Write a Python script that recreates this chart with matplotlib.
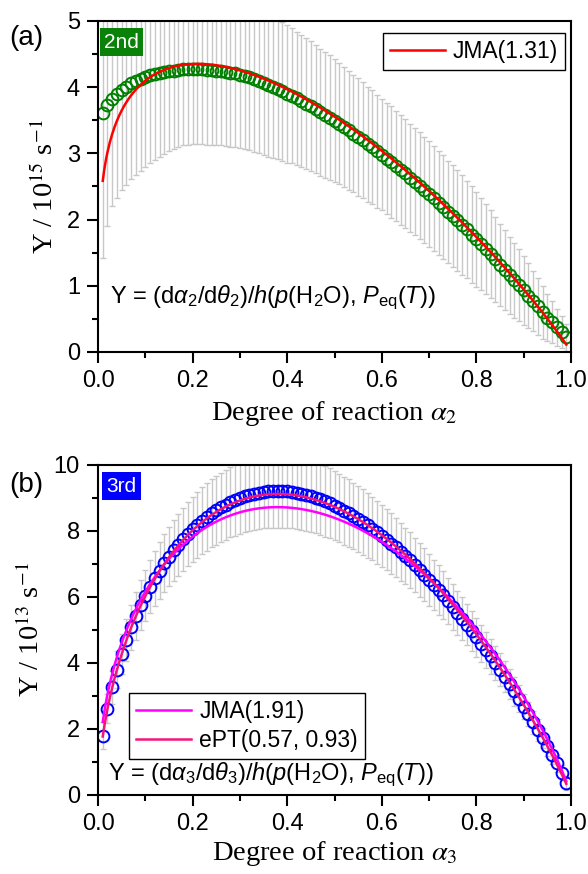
import numpy as np
import matplotlib
matplotlib.use("Agg")
import matplotlib.pyplot as plt
from matplotlib.ticker import MultipleLocator, FormatStrFormatter

plt.rcParams["font.family"] = ["Liberation Sans", "DejaVu Sans"]
plt.rcParams["mathtext.fontset"] = "custom"
plt.rcParams["mathtext.rm"] = "Liberation Sans"
plt.rcParams["mathtext.it"] = "Liberation Sans:italic"
plt.rcParams["mathtext.bf"] = "Liberation Sans:bold"

# ---------------- data ----------------
alpha = np.round(np.arange(1, 100) / 100.0, 2)

# 2nd step: Y / 10^15 s^-1
y2 = [3.61, 3.73, 3.82, 3.89, 3.96, 4.01, 4.06, 4.10, 4.13, 4.16,
      4.18, 4.20, 4.21, 4.23, 4.24, 4.25, 4.26, 4.27, 4.27, 4.27,
      4.27, 4.27, 4.26, 4.26, 4.25, 4.24, 4.23, 4.22, 4.21, 4.19,
      4.17, 4.15, 4.12, 4.09, 4.06, 4.03, 4.00, 3.97, 3.94, 3.90,
      3.87, 3.83, 3.79, 3.75, 3.71, 3.67, 3.62, 3.58, 3.54, 3.49,
      3.45, 3.40, 3.35, 3.30, 3.25, 3.20, 3.14, 3.09, 3.03, 2.98,
      2.92, 2.87, 2.81, 2.75, 2.70, 2.63, 2.57, 2.51, 2.44, 2.38,
      2.32, 2.25, 2.19, 2.12, 2.06, 1.99, 1.92, 1.85, 1.77, 1.70,
      1.63, 1.56, 1.48, 1.40, 1.32, 1.24, 1.16, 1.08, 1.01, 0.93,
      0.85, 0.77, 0.69, 0.60, 0.52, 0.45, 0.37, 0.30, 0.22]
y2_err = [2.19, 1.83, 1.62, 1.56, 1.52, 1.49, 1.45, 1.42, 1.39, 1.36,
          1.33, 1.30, 1.27, 1.24, 1.21, 1.19, 1.17, 1.15, 1.14, 1.13,
          1.13, 1.13, 1.13, 1.13, 1.13, 1.12, 1.12, 1.12, 1.12, 1.11,
          1.11, 1.10, 1.10, 1.09, 1.09, 1.08, 1.07, 1.06, 1.05, 1.04,
          1.02, 1.01, 1.00, 0.99, 0.98, 0.97, 0.96, 0.95, 0.94, 0.93,
          0.92, 0.91, 0.90, 0.89, 0.89, 0.88, 0.87, 0.86, 0.85, 0.84,
          0.84, 0.84, 0.83, 0.83, 0.82, 0.82, 0.81, 0.81, 0.80, 0.80,
          0.79, 0.79, 0.78, 0.77, 0.77, 0.76, 0.75, 0.74, 0.73, 0.72,
          0.70, 0.68, 0.66, 0.64, 0.62, 0.60, 0.58, 0.56, 0.54, 0.52,
          0.49, 0.46, 0.43, 0.40, 0.36, 0.32, 0.28, 0.24, 0.20]

# 3rd step: Y / 10^13 s^-1
y3 = [1.80, 2.62, 3.26, 3.80, 4.28, 4.70, 5.08, 5.43, 5.75, 6.04,
      6.31, 6.56, 6.80, 7.02, 7.22, 7.41, 7.58, 7.75, 7.90, 8.05,
      8.18, 8.31, 8.42, 8.53, 8.63, 8.72, 8.80, 8.88, 8.94, 9.00,
      9.05, 9.10, 9.13, 9.16, 9.18, 9.20, 9.21, 9.21, 9.21, 9.20,
      9.18, 9.16, 9.13, 9.10, 9.06, 9.01, 8.96, 8.90, 8.84, 8.77,
      8.70, 8.62, 8.54, 8.45, 8.36, 8.27, 8.17, 8.07, 7.96, 7.85,
      7.74, 7.62, 7.50, 7.37, 7.24, 7.11, 6.97, 6.83, 6.68, 6.52,
      6.37, 6.21, 6.05, 5.88, 5.70, 5.52, 5.34, 5.16, 4.97, 4.78,
      4.59, 4.40, 4.20, 4.00, 3.80, 3.58, 3.36, 3.14, 2.91, 2.68,
      2.45, 2.21, 1.97, 1.72, 1.47, 1.22, 0.96, 0.68, 0.36]
y3_err = [0.40, 0.45, 0.50, 0.55, 0.60, 0.64, 0.68, 0.72, 0.75, 0.78,
          0.81, 0.84, 0.86, 0.88, 0.90, 0.92, 0.94, 0.96, 0.97, 0.99,
          1.00, 1.01, 1.02, 1.03, 1.04, 1.05, 1.06, 1.07, 1.08, 1.08,
          1.09, 1.09, 1.10, 1.10, 1.10, 1.11, 1.11, 1.11, 1.11, 1.11,
          1.10, 1.10, 1.10, 1.09, 1.09, 1.08, 1.08, 1.07, 1.06, 1.05,
          1.04, 1.03, 1.02, 1.01, 1.00, 0.99, 0.98, 0.96, 0.95, 0.94,
          0.92, 0.91, 0.89, 0.88, 0.86, 0.85, 0.83, 0.82, 0.80, 0.78,
          0.76, 0.75, 0.73, 0.71, 0.69, 0.67, 0.65, 0.63, 0.61, 0.59,
          0.57, 0.55, 0.53, 0.51, 0.49, 0.47, 0.45, 0.43, 0.41, 0.39,
          0.37, 0.35, 0.33, 0.31, 0.29, 0.27, 0.25, 0.23, 0.21]

# kinetic model parameters (from the fits)
jma2_m, jma2_A = 1.31, 5.92
jma3_m, jma3_A = 1.91, 10.47
ept3_m, ept3_n, ept3_A = 0.57, 0.93, 24.7


def jma(a, m, A):
    return A * m * (1 - a) * (-np.log(1 - a)) ** (1 - 1 / m)


def ept(a, m, n, A):
    return A * a ** m * (1 - a) ** n


a_fit = np.linspace(0.01, 0.99, 400)

# ---------------- figure ----------------
fig = plt.figure(figsize=(5.88, 8.74), dpi=100)
ax1 = fig.add_axes([0.1667, 0.5973, 0.8044, 0.3787])
ax2 = fig.add_axes([0.1667, 0.0904, 0.8044, 0.3776])

err_kw = dict(fmt="none", ecolor="#c8c8c8", elinewidth=1.0, capsize=2.5,
              capthick=1.0, zorder=1)

# panel (a)
ax1.errorbar(alpha, y2, yerr=y2_err, **err_kw)
ax1.plot(alpha, y2, "o", mfc="none", mec="#008000", mew=1.4, ms=8.5, zorder=2)
ax1.plot(a_fit, jma(a_fit, jma2_m, jma2_A), color="#ff0000", lw=1.8,
         zorder=3, label="JMA(1.31)")

# panel (b)
ax2.errorbar(alpha, y3, yerr=y3_err, **err_kw)
ax2.plot(alpha, y3, "o", mfc="none", mec="#0000ff", mew=1.4, ms=8.5, zorder=2)
ax2.plot(a_fit, jma(a_fit, jma3_m, jma3_A), color="#ff00ff", lw=1.8,
         zorder=3, label="JMA(1.91)")
ax2.plot(a_fit, ept(a_fit, ept3_m, ept3_n, ept3_A), color="#f5147a", lw=1.8,
         zorder=3, label="ePT(0.57, 0.93)")

for ax, ymax, ymaj, ymin in [(ax1, 5, 1, 0.5), (ax2, 10, 2, 1)]:
    ax.set_xlim(0, 1.0)
    ax.set_ylim(0, ymax)
    ax.xaxis.set_major_locator(MultipleLocator(0.2))
    ax.xaxis.set_minor_locator(MultipleLocator(0.1))
    ax.yaxis.set_major_locator(MultipleLocator(ymaj))
    ax.yaxis.set_minor_locator(MultipleLocator(ymin))
    ax.xaxis.set_major_formatter(FormatStrFormatter("%.1f"))
    ax.yaxis.set_major_formatter(FormatStrFormatter("%d"))
    ax.tick_params(which="major", direction="out", length=8, width=1.5,
                   labelsize=17, pad=5)
    ax.tick_params(which="minor", direction="out", length=4.5, width=1.5)
    for sp in ax.spines.values():
        sp.set_linewidth(1.5)

label_kw = dict(fontsize=20.5, family="Liberation Serif", math_fontfamily="stix")
ax1.set_xlabel(r"Degree of reaction $\alpha_2$", labelpad=5, **label_kw)
ax2.set_xlabel(r"Degree of reaction $\alpha_3$", labelpad=3, **label_kw)
ax1.set_ylabel(r"Y / 10$^{15}$ s$^{-1}$", labelpad=6, **label_kw)
ax2.set_ylabel(r"Y / 10$^{13}$ s$^{-1}$", labelpad=6, **label_kw)

leg_kw = dict(fontsize=16.5, frameon=True, fancybox=False, edgecolor="black",
              framealpha=1, borderaxespad=0, handlelength=2.4,
              handletextpad=0.35, borderpad=0.3, labelspacing=0.25)
l1 = ax1.legend(loc="upper right", bbox_to_anchor=(0.987, 0.964), **leg_kw)
l2 = ax2.legend(loc="lower left", bbox_to_anchor=(0.066, 0.11), **leg_kw)
for lg in (l1, l2):
    lg.get_frame().set_linewidth(1.0)

ax1.text(0.026, 0.163, r"Y = (d$\alpha_2$/d$\theta_2$)/$h$($p$(H$_2$O), $P_{\rm eq}$($T$))",
         transform=ax1.transAxes, fontsize=17, va="center", ha="left")
ax2.text(0.022, 0.06, r"Y = (d$\alpha_3$/d$\theta_3$)/$h$($p$(H$_2$O), $P_{\rm eq}$($T$))",
         transform=ax2.transAxes, fontsize=17, va="center", ha="left")

box_kw = dict(boxstyle="square,pad=0.2", linewidth=0)
ax1.text(0.012, 0.965, "2nd", transform=ax1.transAxes, fontsize=15,
         color="white", va="top", ha="left", bbox=dict(facecolor="#0a820a", **box_kw))
ax2.text(0.018, 0.965, "3rd", transform=ax2.transAxes, fontsize=15,
         color="white", va="top", ha="left", bbox=dict(facecolor="#0000ff", **box_kw))

fig.text(0.045, 0.956, "(a)", fontsize=20, ha="center", va="center")
fig.text(0.045, 0.445, "(b)", fontsize=20, ha="center", va="center")

fig.savefig("out.png", dpi=100)
